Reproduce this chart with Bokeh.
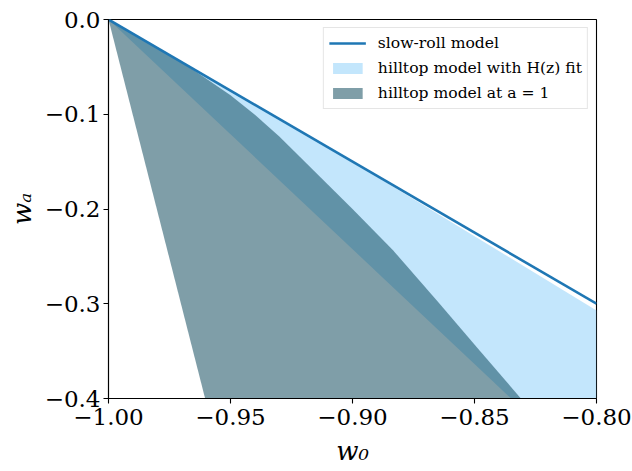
import numpy as np
from bokeh.plotting import figure
from bokeh.models import Range1d, FixedTicker, CustomJSTickFormatter, Legend, LegendItem
from bokeh.embed import file_html
from bokeh.resources import INLINE

# ---- data ----
slow_roll_w0 = [-1.0, -0.8]
slow_roll_wa = [0.0, -0.3]

# hilltop model with H(z) fit: upper and lower boundary
fit_upper_w0 = [-1.0, -0.9, -0.8]
fit_upper_wa = [0.0, -0.1505, -0.307]
fit_lower_w0 = [-1.0, -0.835, -0.8]
fit_lower_wa = [0.0, -0.4, -0.4]

# hilltop model at a = 1: right (curved) and left boundary
a1_right_w0 = [-1.0, -0.98, -0.965, -0.95, -0.94, -0.93, -0.9215, -0.9, -0.8834, -0.865, -0.848, -0.831]
a1_right_wa = [0.0, -0.030, -0.0535, -0.080, -0.1005, -0.1235, -0.145, -0.2, -0.2435, -0.298, -0.349, -0.4]
a1_left_w0 = [-1.0, -0.9604]
a1_left_wa = [0.0, -0.4]

x_ticks = [-1.0, -0.95, -0.9, -0.85, -0.8]
x_tick_labels = ["\u22121.00", "\u22120.95", "\u22120.90", "\u22120.85", "\u22120.80"]
y_ticks = [-0.4, -0.3, -0.2, -0.1, 0.0]
y_tick_labels = ["\u22120.4", "\u22120.3", "\u22120.2", "\u22120.1", "0.0"]

x_label = "w\u2080"
y_label = "w\u2090"
legend_labels = ["slow-roll model", "hilltop model with H(z) fit", "hilltop model at a = 1"]

# ---- figure ----
p = figure(width=632, height=471,
           x_range=Range1d(-1.0, -0.8), y_range=Range1d(-0.4, 0.0),
           output_backend="svg", toolbar_location=None,
           min_border_left=108, min_border_right=36,
           min_border_top=19, min_border_bottom=73)
p.grid.visible = False
p.outline_line_color = "black"
p.outline_line_width = 1.1
p.background_fill_color = "white"
p.border_fill_color = "white"

fit_x = list(fit_upper_w0) + list(fit_lower_w0[::-1])
fit_y = list(fit_upper_wa) + list(fit_lower_wa[::-1])
a1_x = list(a1_right_w0) + list(a1_left_w0[::-1])
a1_y = list(a1_right_wa) + list(a1_left_wa[::-1])

r_fit = p.patch(fit_x, fit_y, fill_color="#87cefa", fill_alpha=0.5, line_color=None)
r_a1 = p.patch(a1_x, a1_y, fill_color="#003e52", fill_alpha=0.5, line_color=None)
r_line = p.line(slow_roll_w0, slow_roll_wa, line_color="#1f77b4", line_width=2.6)

code = ("const i = tvals.findIndex(t => Math.abs(t - tick) < 1e-9);"
        "return i >= 0 ? tlabels[i] : '';")
p.xaxis.ticker = FixedTicker(ticks=x_ticks)
p.xaxis.formatter = CustomJSTickFormatter(args=dict(tvals=x_ticks, tlabels=x_tick_labels), code=code)
p.yaxis.ticker = FixedTicker(ticks=y_ticks)
p.yaxis.formatter = CustomJSTickFormatter(args=dict(tvals=y_ticks, tlabels=y_tick_labels), code=code)

p.xaxis.axis_label = x_label
p.yaxis.axis_label = y_label
for ax in (p.xaxis[0], p.yaxis[0]):
    ax.major_label_text_font = "DejaVu Serif"
    ax.major_label_text_font_size = "23px"
    ax.major_label_text_color = "black"
    ax.axis_label_text_font = "DejaVu Serif"
    ax.axis_label_text_font_style = "italic"
    ax.axis_label_text_font_size = "26px"
    ax.axis_label_text_color = "black"
    ax.major_tick_out = 5
    ax.major_tick_in = 0
    ax.minor_tick_out = 0
    ax.minor_tick_in = 0
    ax.axis_line_color = "black"
    ax.axis_line_width = 1.1
    ax.major_tick_line_color = "black"
    ax.major_tick_line_width = 1.1
p.xaxis.major_label_standoff = 5
p.xaxis.axis_label_standoff = 8
p.yaxis.major_label_standoff = 3
p.yaxis.axis_label_standoff = 5

legend = Legend(items=[LegendItem(label=legend_labels[0], renderers=[r_line]),
                       LegendItem(label=legend_labels[1], renderers=[r_fit]),
                       LegendItem(label=legend_labels[2], renderers=[r_a1])],
                location="top_right",
                glyph_width=37, glyph_height=14, label_height=20,
                spacing=5, padding=5, margin=8, label_standoff=12,
                label_text_font="DejaVu Serif", label_text_font_size="15.6px",
                label_text_color="black",
                border_line_color="#cccccc", border_line_width=1,
                background_fill_color="white", background_fill_alpha=0.8)
p.add_layout(legend)

open("out.html", "w").write(file_html(p, INLINE))
